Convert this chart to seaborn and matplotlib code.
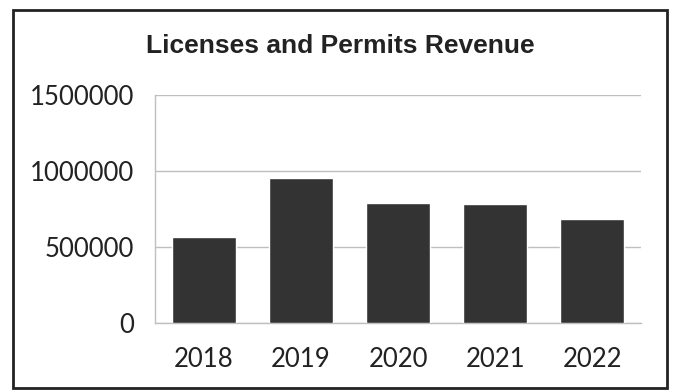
import matplotlib
matplotlib.use("Agg")
import matplotlib.pyplot as plt
from matplotlib.patches import Rectangle
import seaborn as sns
import pandas as pd

years = ["2018", "2019", "2020", "2021", "2022"]
revenue = [568000, 952000, 790000, 780000, 686000]
y_ticks = [0, 500000, 1000000, 1500000]
title = "Licenses and Permits Revenue"

sns.set_theme(style="white")
plt.rcParams["font.family"] = ["Lato", "DejaVu Sans"]

df = pd.DataFrame({"year": years, "revenue": revenue})

fig = plt.figure(figsize=(6.75, 3.9), dpi=100)
ax = fig.add_axes([155 / 675, 1 - 323 / 390, 486 / 675, 228 / 390])

sns.barplot(data=df, x="year", y="revenue", color="#333333", width=0.66,
            saturation=1, ax=ax, zorder=3)

ax.set_ylim(0, 1500000)
ax.set_yticks(y_ticks)
ax.set_yticklabels([str(v) for v in y_ticks])
ax.yaxis.grid(True, color="#bfbfbf", linewidth=1)
ax.set_axisbelow(True)
ax.set_xlabel("")
ax.set_ylabel("")
ax.tick_params(axis="both", length=0, labelsize=18.5, colors="#222222")
ax.tick_params(axis="y", pad=15)
ax.tick_params(axis="x", pad=17)

for side in ["top", "right"]:
    ax.spines[side].set_visible(False)
for side in ["left", "bottom"]:
    ax.spines[side].set_color("#bfbfbf")
    ax.spines[side].set_linewidth(1)

fig.text(340 / 675, 1 - 46 / 390, title, ha="center", va="center",
         fontsize=19, fontweight="bold", color="#222222",
         family=["Liberation Sans", "DejaVu Sans"])

# outer frame around the whole chart
fig.patches.append(Rectangle((13 / 675, 2 / 390), 654 / 675, 378 / 390,
                             transform=fig.transFigure, fill=False,
                             edgecolor="#222222", linewidth=2))

fig.savefig("out.png", dpi=100)
